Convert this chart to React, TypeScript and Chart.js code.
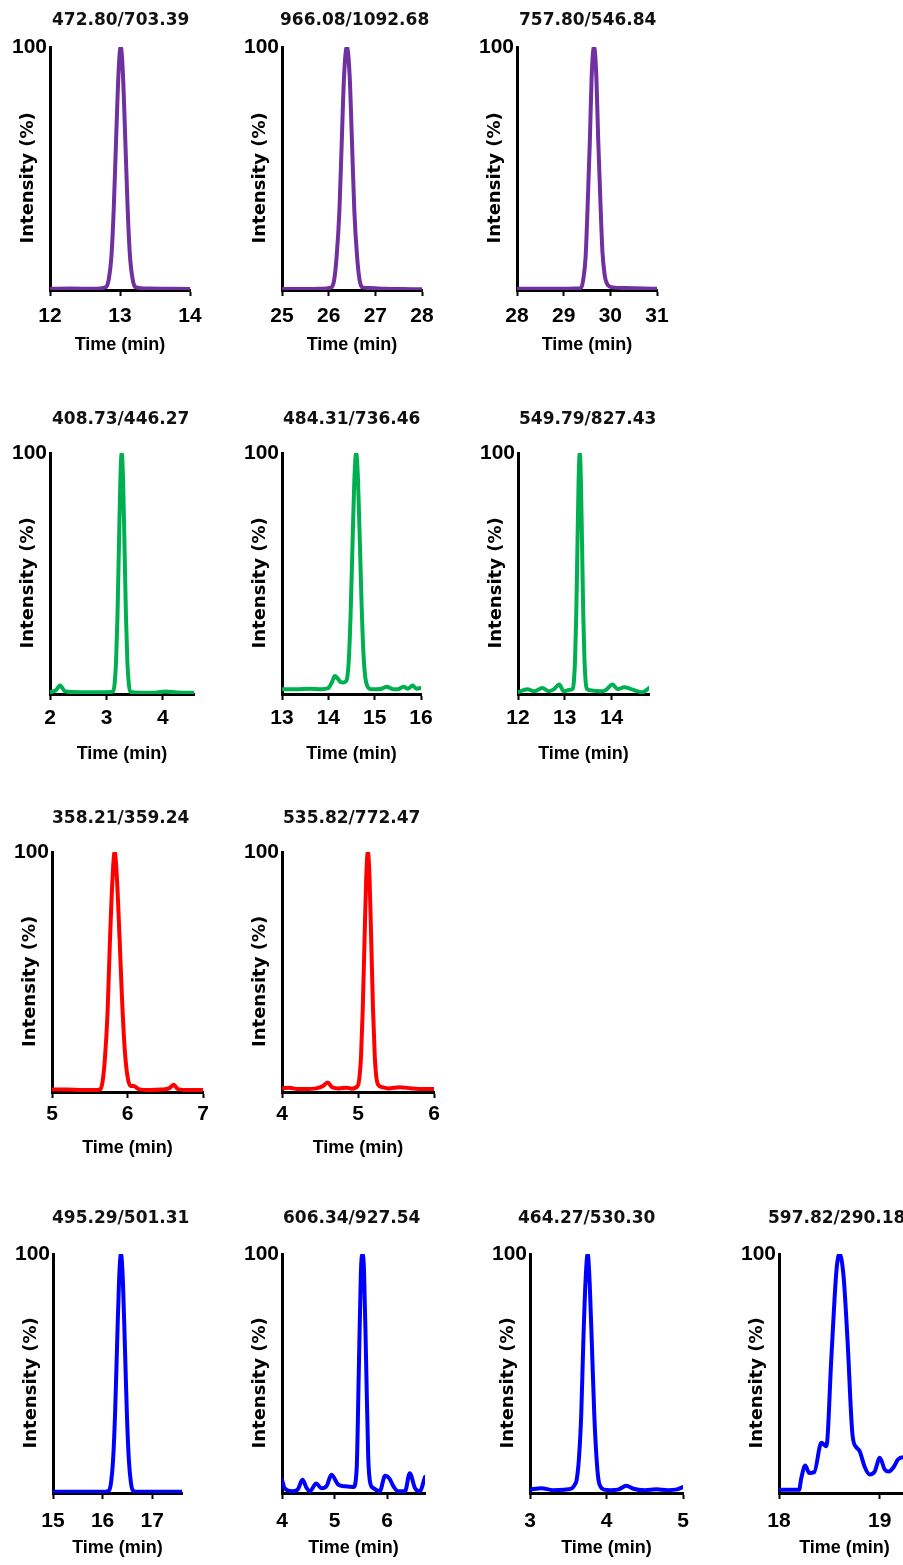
import React, { useEffect, useRef } from "react";
import { Chart, registerables } from "chart.js";

Chart.register(...registerables);

// ---------------- DATA ----------------
const panelTitles = [
  "472.80/703.39", "966.08/1092.68", "757.80/546.84",
  "408.73/446.27", "484.31/736.46", "549.79/827.43",
  "358.21/359.24", "535.82/772.47",
  "495.29/501.31", "606.34/927.54", "464.27/530.30", "597.82/290.18",
];

const xMins = [12, 25, 28, 2, 13, 12, 5, 4, 15, 4, 3, 18];
const xMaxs = [14, 28, 31, 4.55, 16, 14.8, 7, 6, 17.6, 6.72, 5, 19.3];

const xAxisTitle = "Time (min)";
const yAxisTitle = "Intensity (%)";
const yTopTick = 100;

const p1Time = [12.0, 12.3, 12.6, 12.8, 12.84, 12.88, 12.91, 12.94, 12.98, 13.01, 13.04, 13.08, 13.11, 13.14, 13.18, 13.22, 13.4, 13.7, 14.0];
const p1Intensity = [0.5, 0.6, 0.5, 1.2, 4.5, 15, 33, 58, 90, 100, 90, 58, 33, 15, 4.5, 1.2, 0.6, 0.5, 0.4];

const p2Time = [25.0, 25.4, 25.8, 26.06, 26.12, 26.17, 26.23, 26.28, 26.33, 26.39, 26.45, 26.5, 26.55, 26.61, 26.66, 26.72, 26.9, 27.2, 27.6, 28.0];
const p2Intensity = [0.4, 0.4, 0.5, 1.1, 4.4, 13.5, 32.5, 60.7, 88, 100, 88, 60.7, 32.5, 13.5, 4.4, 1.1, 0.8, 0.5, 0.4, 0.3];

const p3Time = [28.0, 28.5, 29.0, 29.3, 29.38, 29.42, 29.47, 29.51, 29.56, 29.6, 29.65, 29.7, 29.74, 29.79, 29.83, 29.88, 29.93, 30.0, 30.3, 30.7, 31.0];
const p3Intensity = [0.5, 0.5, 0.5, 0.6, 1.1, 4.4, 13.5, 32.5, 60.7, 88, 100, 88, 62, 35, 16, 6, 2.5, 1.3, 0.8, 0.6, 0.5];

const p4Time = [2.0, 2.1, 2.18, 2.26, 2.4, 2.7, 3.0, 3.12, 3.145, 3.17, 3.195, 3.22, 3.245, 3.27, 3.295, 3.32, 3.345, 3.37, 3.395, 3.42, 3.5, 3.8, 4.05, 4.25, 4.55];
const p4Intensity = [0.8, 1.5, 3.5, 1.2, 0.8, 0.7, 0.7, 1.1, 4.4, 13.5, 32.5, 60.7, 88, 100, 88, 60.7, 32.5, 13.5, 4.4, 1.1, 0.6, 0.5, 1, 0.6, 0.5];

const p5Time = [13.0, 13.3, 13.6, 13.85, 14.0, 14.08, 14.14, 14.2, 14.26, 14.32, 14.36, 14.4, 14.44, 14.48, 14.52, 14.56, 14.6, 14.64, 14.68, 14.72, 14.76, 14.8, 14.85, 14.92, 15.05, 15.15, 15.26, 15.4, 15.5, 15.62, 15.72, 15.82, 15.9, 16.0];
const p5Intensity = [2, 2, 2.2, 2, 2.5, 5, 7.5, 6.5, 5, 4.8, 5, 6, 13.5, 32.5, 60.7, 88, 100, 89, 63, 36, 16, 6.5, 3, 2, 2, 2.2, 3, 2, 2, 3, 2.2, 3.5, 2.2, 2.5];

const p6Time = [12.0, 12.2, 12.35, 12.52, 12.66, 12.77, 12.88, 12.98, 13.09, 13.17, 13.195, 13.22, 13.245, 13.27, 13.295, 13.32, 13.345, 13.37, 13.395, 13.42, 13.445, 13.47, 13.6, 13.78, 13.88, 14.02, 14.13, 14.27, 14.42, 14.56, 14.66, 14.75, 14.8];
const p6Intensity = [0.7, 2, 1.1, 2.5, 1.1, 2, 3.9, 1.1, 1.7, 2.2, 5.5, 14.5, 33, 61, 88, 100, 88, 61, 33, 14.5, 5.5, 2.2, 1.4, 1.1, 1.7, 3.9, 2, 2.8, 2, 1.1, 0.7, 1.7, 2.5];

const p7Time = [5.0, 5.2, 5.4, 5.55, 5.64, 5.67, 5.7, 5.735, 5.765, 5.8, 5.83, 5.86, 5.895, 5.93, 5.965, 6.0, 6.04, 6.08, 6.15, 6.3, 6.45, 6.55, 6.61, 6.67, 6.8, 7.0];
const p7Intensity = [1, 1, 0.8, 0.8, 1.1, 4.4, 13.5, 32.5, 60.7, 88, 100, 89, 64, 37, 17, 6.5, 2.5, 2.5, 1.2, 0.8, 1, 1.5, 3, 1.2, 0.8, 0.8];

const p8Time = [4.0, 4.1, 4.2, 4.3, 4.45, 4.54, 4.6, 4.66, 4.75, 4.85, 4.92, 4.995, 5.018, 5.04, 5.062, 5.085, 5.108, 5.13, 5.152, 5.175, 5.198, 5.22, 5.242, 5.265, 5.32, 5.4, 5.55, 5.7, 5.85, 6.0];
const p8Intensity = [1.5, 1.8, 1.2, 1.2, 1.5, 2.5, 4, 2, 1.5, 1.8, 1.4, 2.5, 5.8, 15, 34, 62, 89, 100, 89, 62, 34, 15.5, 6, 3, 2, 1.5, 2, 1.5, 1.2, 1.2];

const p9Time = [15.0, 15.4, 15.8, 16.05, 16.13, 16.17, 16.21, 16.25, 16.29, 16.33, 16.37, 16.41, 16.45, 16.49, 16.53, 16.57, 16.61, 16.7, 17.0, 17.3, 17.6];
const p9Intensity = [0.5, 0.5, 0.5, 0.5, 1.1, 4.4, 13.5, 32.5, 60.7, 88, 100, 88, 60.7, 32.5, 13.5, 4.4, 1.1, 0.5, 0.5, 0.5, 0.5];

const p10Time = [4.0, 4.05, 4.2, 4.3, 4.39, 4.47, 4.53, 4.65, 4.75, 4.85, 4.94, 5.07, 5.2, 5.36, 5.42, 5.46, 5.5, 5.53, 5.56, 5.6, 5.64, 5.68, 5.74, 5.86, 5.96, 6.04, 6.12, 6.21, 6.34, 6.43, 6.53, 6.62, 6.72];
const p10Intensity = [5.5, 2, 0.7, 1.5, 5.5, 2, 0.7, 4, 2, 3, 7.6, 3.5, 2.8, 2.5, 10, 50, 92, 100, 93, 55, 15, 4, 2, 0.7, 7.2, 6.2, 2.8, 0.7, 0.7, 8.3, 2, 0.7, 6.7];

const p11Time = [3.0, 3.15, 3.3, 3.45, 3.55, 3.585, 3.61, 3.64, 3.67, 3.695, 3.725, 3.754, 3.78, 3.81, 3.84, 3.87, 3.895, 3.925, 3.97, 4.05, 4.15, 4.26, 4.35, 4.5, 4.65, 4.8, 4.92, 5.0];
const p11Intensity = [1.4, 2, 1.2, 1.4, 2, 3.5, 5.5, 14.5, 33, 61, 88, 100, 88, 61, 33, 14.5, 5.5, 2.5, 1.4, 1.2, 1.4, 3, 1.8, 1.2, 1.6, 1.2, 1.5, 2.5];

const p12Time = [18.0, 18.1, 18.2, 18.22, 18.26, 18.3, 18.35, 18.42, 18.47, 18.52, 18.57, 18.6, 18.64, 18.68, 18.73, 18.77, 18.8, 18.85, 18.9, 18.95, 19.0, 19.05, 19.09, 19.14, 19.18, 19.23, 19.26];
const p12Intensity = [1.4, 1.4, 1.4, 6, 11.5, 8.4, 8.7, 21, 19.6, 57, 93, 100, 91, 64, 24, 19, 17.5, 11, 7.7, 9, 14.7, 9.8, 9, 11, 14, 15, 15];

const seriesTimes = [p1Time, p2Time, p3Time, p4Time, p5Time, p6Time, p7Time, p8Time, p9Time, p10Time, p11Time, p12Time];
const seriesIntensities = [p1Intensity, p2Intensity, p3Intensity, p4Intensity, p5Intensity, p6Intensity, p7Intensity, p8Intensity, p9Intensity, p10Intensity, p11Intensity, p12Intensity];

// ---------------- STYLE / LAYOUT ----------------
const PURPLE = "#7030A0";
const GREEN = "#00B050";
const RED = "#FF0000";
const BLUE = "#0000FF";
const panelColors = [PURPLE, PURPLE, PURPLE, GREEN, GREEN, GREEN, RED, RED, BLUE, BLUE, BLUE, BLUE];

type RowLayout = { canvasTop: number; chartTop: number; chartBottom: number; tickPad: number; xAxisH: number };
const rows: RowLayout[] = [
  { canvasTop: 10, chartTop: 47, chartBottom: 290, tickPad: 8, xAxisH: 66 },
  { canvasTop: 409, chartTop: 453, chartBottom: 694, tickPad: 6, xAxisH: 71 },
  { canvasTop: 808, chartTop: 852, chartBottom: 1092, tickPad: 4, xAxisH: 67 },
  { canvasTop: 1208, chartTop: 1254, chartBottom: 1493, tickPad: 10, xAxisH: 66 },
];

type PanelLayout = { axisX: number; chartRight: number; row: number; titleShift: number };
const panelLayouts: PanelLayout[] = [
  { axisX: 50, chartRight: 190, row: 0, titleShift: 2 },
  { axisX: 282, chartRight: 422, row: 0, titleShift: -2 },
  { axisX: 517, chartRight: 657, row: 0, titleShift: 2 },
  { axisX: 50, chartRight: 194, row: 1, titleShift: 2 },
  { axisX: 282, chartRight: 421, row: 1, titleShift: 1 },
  { axisX: 518, chartRight: 649, row: 1, titleShift: 1 },
  { axisX: 52, chartRight: 203, row: 2, titleShift: 0 },
  { axisX: 282, chartRight: 434, row: 2, titleShift: 1 },
  { axisX: 53, chartRight: 182, row: 3, titleShift: -1 },
  { axisX: 282, chartRight: 425, row: 3, titleShift: 1 },
  { axisX: 530, chartRight: 683, row: 3, titleShift: -12 },
  { axisX: 779, chartRight: 910, row: 3, titleShift: -11 },
];

const Y_AXIS_W = 46;
const Y_TITLE_CENTER_OFFSET = 22; // distance of y-title centre from the axis line
const Y_TITLE_LH = 18 * 1.2;
const PAD_L = 4;
const PAD_R = 20;
const PAD_B = 4;
const TITLE_SIZE = 17;
const TITLE_LH = TITLE_SIZE * 1.2;

function Panel({ index }: { index: number }) {
  const ref = useRef<HTMLCanvasElement | null>(null);
  const lay = panelLayouts[index];
  const row = rows[lay.row];
  const left = lay.axisX - Y_AXIS_W - PAD_L;
  const top = row.canvasTop;
  const width = lay.chartRight - lay.axisX + Y_AXIS_W + PAD_L + PAD_R;
  const height = row.chartBottom + row.xAxisH + PAD_B - top;
  const titlePadBottom = row.chartTop - top - TITLE_LH;
  const yTitlePad = Y_AXIS_W - Y_TITLE_CENTER_OFFSET - Y_TITLE_LH / 2;

  useEffect(() => {
    const canvas = ref.current;
    if (!canvas) return;
    const times = seriesTimes[index];
    const vals = seriesIntensities[index];
    const dx = lay.titleShift;
    const titleShiftPlugin = {
      id: "titleShift" + index,
      afterLayout(chart: any) {
        const tb = chart.titleBlock;
        if (tb) {
          tb.left += dx;
          tb.right = tb.left + 300;
        }
      },
    };
    const chart = new Chart(canvas, {
      type: "line",
      data: {
        datasets: [
          {
            data: times.map((t, i) => ({ x: t, y: vals[i] })),
            borderColor: panelColors[index],
            backgroundColor: panelColors[index],
            borderWidth: 4,
            pointRadius: 0,
            pointHoverRadius: 0,
            cubicInterpolationMode: "monotone",
            fill: false,
            borderJoinStyle: "round",
            borderCapStyle: "round",
          } as any,
        ],
      },
      options: {
        responsive: false,
        maintainAspectRatio: false,
        animation: false,
        devicePixelRatio: 1,
        events: [],
        layout: { padding: { left: PAD_L, right: PAD_R, top: 0, bottom: PAD_B } },
        plugins: {
          legend: { display: false },
          tooltip: { enabled: false },
          title: {
            display: true,
            text: panelTitles[index],
            align: "start",
            fullSize: false,
            color: "#111",
            font: { family: "DejaVu Sans", weight: "bold", size: TITLE_SIZE, lineHeight: 1.2 },
            padding: { top: 0, bottom: titlePadBottom },
          },
        },
        scales: {
          x: {
            type: "linear",
            min: xMins[index],
            max: xMaxs[index],
            afterFit: (s: any) => {
              s.height = row.xAxisH;
            },
            border: { display: true, color: "#000", width: 3 },
            grid: {
              display: true,
              drawOnChartArea: false,
              drawTicks: true,
              tickLength: 6,
              tickWidth: 2,
              tickColor: "#000",
            },
            ticks: {
              stepSize: 1,
              includeBounds: false,
              autoSkip: false,
              maxRotation: 0,
              minRotation: 0,
              color: "#000",
              padding: row.tickPad,
              font: { family: "Liberation Sans", weight: "bold", size: 21, lineHeight: 1.2 },
            },
            title: {
              display: true,
              text: xAxisTitle,
              color: "#000",
              font: { family: "Liberation Sans", weight: "bold", size: 18, lineHeight: 1.2 },
              padding: 0,
            },
          },
          y: {
            type: "linear",
            min: 0,
            max: yTopTick,
            afterFit: (s: any) => {
              s.width = Y_AXIS_W;
            },
            border: { display: true, color: "#000", width: 3 },
            grid: { display: false, drawTicks: false },
            ticks: {
              stepSize: yTopTick,
              color: "#000",
              padding: 3,
              callback: (v: any) => (v === yTopTick ? String(yTopTick) : ""),
              font: { family: "Liberation Sans", weight: "bold", size: 21, lineHeight: 1.2 },
            },
            title: {
              display: true,
              text: yAxisTitle + "   ",
              color: "#000",
              font: { family: "DejaVu Sans", weight: "bold", size: 18, lineHeight: 1.2 },
              padding: { top: yTitlePad, bottom: 0 },
            },
          },
        },
      } as any,
      plugins: [titleShiftPlugin],
    });
    return () => chart.destroy();
  }, [index]);

  return (
    <canvas
      ref={ref}
      width={width}
      height={height}
      style={{ position: "absolute", left, top, width, height, display: "block" }}
    />
  );
}

export default function App() {
  return (
    <div
      style={{
        position: "absolute",
        left: 0,
        top: 0,
        width: 903,
        height: 1565,
        overflow: "hidden",
        background: "#ffffff",
      }}
    >
      {panelTitles.map((_, i) => (
        <Panel key={i} index={i} />
      ))}
    </div>
  );
}
